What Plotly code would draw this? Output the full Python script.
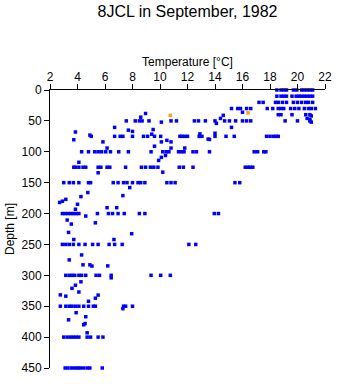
import plotly.graph_objects as go

# Blue observations: temperature [°C] and depth [m], grouped by row for readability
temp_blue = [
    # 0 m
    18.5, 18.8, 19.0, 19.2, 19.7, 19.95, 20.3, 20.5, 20.7, 20.9, 21.1,
    # 10 m
    18.5, 18.8, 19.0, 19.2, 19.6, 19.9, 20.1, 20.3, 20.5, 20.7, 20.9, 21.1,
    # 20 m
    17.2, 17.5, 18.4, 18.6, 18.9, 19.2, 19.7, 20.0, 20.3, 20.6, 20.8, 21.1,
    # 30 m
    15.2, 15.65, 15.85, 16.3, 16.6, 17.8, 18.2, 18.6, 18.8, 19.0, 19.5, 19.8, 20.1, 20.5, 20.8, 21.0, 21.3,
    # 30-50 m scattered
    16.0, 18.6, 18.8, 19.6, 20.6, 20.9, 21.0, 14.6, 14.4, 8.95, 8.6, 20.7, 20.9, 21.0,
    # 50 m
    7.55, 8.2, 8.5, 8.7, 9.2, 10.1, 10.8, 11.2, 12.5, 12.8, 13.3, 14.0, 14.7, 15.05, 15.5, 16.0, 16.3, 16.6, 19.1, 20.0, 20.9,
    # 50-100 m scattered
    14.1, 15.2, 6.7, 7.7, 8.0, 9.5, 9.4, 3.85, 4.9, 5.0, 12.9, 14.0, 13.5, 3.73, 5.85, 6.15, 10.1, 10.5, 10.8, 9.6, 10.8, 11.8, 13.6,
    # 75 m
    6.7, 7.1, 7.3, 8.0, 8.8, 9.1, 9.6, 10.05, 11.45, 11.6, 11.8, 12.0, 12.85, 13.05, 14.0, 14.8, 15.4, 17.75, 18.0, 18.25, 18.45, 18.6,
    # 100 m
    4.3, 4.8, 5.25, 5.5, 5.75, 6.05, 6.4, 7.0, 7.7, 9.35, 10.2, 10.45, 10.65, 11.35, 11.55, 11.75, 12.4, 12.65, 13.6, 16.85, 17.1, 17.55, 17.7,
    # 100-125 m scattered
    10.1, 10.4, 9.9, 4.1,
    # 125 m
    3.73, 3.85, 4.1, 4.4, 4.6, 5.5, 5.7, 6.15, 6.35, 7.5, 8.65, 8.95, 9.3, 9.55, 9.85, 11.4, 11.7, 12.4, 16.2, 16.4, 16.55, 16.75,
    # 125-150 m scattered
    5.5, 10.2,
    # 150 m
    3.0, 3.4, 3.7, 4.1, 4.8, 4.95, 6.6, 6.95, 7.35, 7.6, 8.0, 8.4, 8.6, 8.9, 10.5, 10.8, 11.1, 15.45, 15.8,
    # 150-200 m scattered
    7.8, 7.3, 4.75, 4.25, 2.7, 2.9, 3.15, 4.0, 3.85, 6.15, 6.85,
    # 200 m
    2.9, 3.1, 3.3, 3.5, 3.7, 3.9, 4.1, 4.6, 5.45, 6.25, 6.55, 6.95, 7.4, 8.5, 8.9, 13.95, 14.25,
    # 200-250 m scattered
    3.25, 3.55, 5.3, 3.35, 3.73, 6.65, 7.94,
    # 250 m
    2.9, 3.15, 3.4, 3.7, 4.1, 4.55, 5.1, 5.5, 6.3, 6.7, 7.25, 12.1, 12.6,
    # 250-300 m scattered
    4.3, 3.4, 4.4, 4.9, 5.05, 6.2,
    # 300 m
    3.15, 3.4, 3.6, 3.8, 4.1, 4.3, 4.6, 5.35, 5.6, 6.45, 9.35, 10.05, 10.75,
    # 300-350 m scattered
    6.45, 4.25, 3.85, 3.6, 4.1, 2.75, 3.15, 5.5, 5.3, 4.8,
    # 350 m
    2.75, 3.15, 3.4, 3.6, 3.85, 4.1, 4.45, 4.8, 5.15, 5.3, 7.35, 7.5, 8.0,
    # 350-400 m scattered
    7.3, 3.9, 4.6, 3.35, 4.45, 4.55, 4.7,
    # 400 m
    3.0, 3.25, 3.5, 3.7, 3.9, 4.1, 4.7, 4.95, 5.5, 5.85,
    # 450 m
    3.1, 3.3, 3.55, 3.8, 4.0, 4.2, 4.45, 4.7, 4.9, 5.8,
]

depth_blue = (
    [0] * 11
    + [10] * 12
    + [20] * 12
    + [30] * 17
    + [36, 40, 40, 40, 40, 40, 42, 41, 46, 38, 44, 46, 48, 52]
    + [50] * 5 + [52] + [50] * 15
    + [54, 60.5, 60.5, 65, 67, 64, 71.5, 68, 73, 75, 71, 70, 79.5, 80.5, 84, 94, 84, 81.5, 84, 91, 94, 94, 80]
    + [75] * 22
    + [100] * 23
    + [109, 106, 114, 117]
    + [125] * 22
    + [134, 133]
    + [150] * 19
    + [158, 171, 166, 172.6, 182, 180, 177, 185, 193, 190.5, 190.5]
    + [200] * 7 + [204] + [200] * 9
    + [210.5, 217, 215, 230.5, 242, 242, 232.6]
    + [250] * 13
    + [267, 275, 283, 283, 285, 284.7]
    + [300] * 13
    + [304, 310.5, 316, 321, 327, 331.6, 333.7, 332, 337, 342]
    + [350] * 13
    + [354, 360.5, 367, 372, 380, 378, 393]
    + [400] * 10
    + [450] * 10
)

# Orange observations
temp_orange = [16.4, 10.75]
depth_orange = [37, 41]

x_ticks = [2, 4, 6, 8, 10, 12, 14, 16, 18, 20, 22]
y_ticks = [0, 50, 100, 150, 200, 250, 300, 350, 400, 450]

font_family = "Liberation Sans, Arial, sans-serif"

fig = go.Figure()
fig.add_trace(go.Scatter(
    x=temp_blue, y=depth_blue, mode="markers",
    marker=dict(symbol="square", size=3.5, color="#0000FF", line=dict(width=0)),
    cliponaxis=False, showlegend=False,
))
fig.add_trace(go.Scatter(
    x=temp_orange, y=depth_orange, mode="markers",
    marker=dict(symbol="square", size=3.5, color="#FFA500", line=dict(width=0)),
    cliponaxis=False, showlegend=False,
))

fig.update_layout(
    width=341, height=384,
    margin=dict(l=47, r=9, t=90, b=9),
    paper_bgcolor="white", plot_bgcolor="white",
    font=dict(family=font_family, size=12, color="black"),
    title=dict(text="8JCL in September, 1982", x=0.5, xref="paper",
               y=0.985, yref="container", yanchor="top",
               font=dict(size=16, family=font_family, color="black")),
    xaxis=dict(
        side="top", range=[2, 22], tickvals=x_ticks,
        ticks="outside", ticklen=5, tickcolor="black", tickwidth=1,
        showline=True, linecolor="black", linewidth=1, mirror=False,
        showgrid=False, zeroline=False,
        tickfont=dict(size=12), ticklabelstandoff=-2,
        title=dict(text="Temperature [°C]", font=dict(size=12), standoff=1),
    ),
    yaxis=dict(
        range=[450, 0], tickvals=y_ticks,
        ticks="outside", ticklen=5, tickcolor="black", tickwidth=1,
        showline=True, linecolor="black", linewidth=1, mirror=False,
        showgrid=False, zeroline=False,
        tickfont=dict(size=12),
        title=dict(text="Depth [m]", font=dict(size=12), standoff=4),
    ),
)

fig.write_html("out.html")
